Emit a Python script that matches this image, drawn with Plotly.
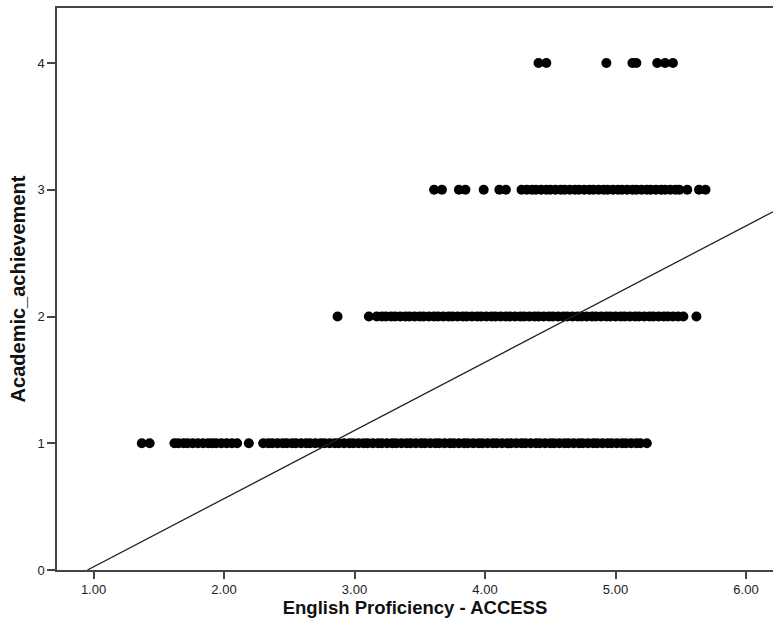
import plotly.graph_objects as go

level1_x = [1.37, 1.43, 1.62, 1.65, 1.69, 1.72, 1.76, 1.80, 1.84, 1.88, 1.91, 1.94, 1.98, 2.02, 2.06, 2.10,
            2.19, 2.30, 2.34, 2.37, 2.41, 2.45, 2.48, 2.52, 2.55, 2.59, 2.63, 2.66, 2.70, 2.74, 2.77,
            2.81, 2.85, 2.88, 2.92, 2.96, 2.99, 3.03, 3.07, 3.10, 3.14, 3.18, 3.21, 3.25, 3.29, 3.32,
            3.36, 3.40, 3.43, 3.47, 3.51, 3.54, 3.58, 3.62, 3.65, 3.69, 3.73, 3.76, 3.80, 3.84, 3.87,
            3.91, 3.95, 3.98, 4.02, 4.06, 4.09, 4.13, 4.17, 4.20, 4.24, 4.28, 4.31, 4.35, 4.39, 4.42,
            4.46, 4.50, 4.53, 4.57, 4.61, 4.64, 4.68, 4.72, 4.75, 4.79, 4.83, 4.86, 4.90, 4.94, 4.97,
            5.01, 5.05, 5.08, 5.12, 5.16, 5.19, 5.24]
level2_x = [2.87, 3.11, 3.17, 3.21, 3.24, 3.28, 3.31, 3.35, 3.39, 3.42, 3.46, 3.50, 3.53, 3.57, 3.61,
            3.64, 3.68, 3.72, 3.75, 3.79, 3.83, 3.86, 3.90, 3.94, 3.97, 4.01, 4.05, 4.08, 4.12, 4.16,
            4.19, 4.23, 4.27, 4.30, 4.34, 4.38, 4.41, 4.45, 4.49, 4.52, 4.56, 4.60, 4.63, 4.67, 4.71,
            4.74, 4.78, 4.82, 4.85, 4.89, 4.93, 4.96, 5.00, 5.04, 5.07, 5.11, 5.15, 5.18, 5.22, 5.26,
            5.29, 5.33, 5.37, 5.40, 5.44, 5.48, 5.52, 5.62]
level3_x = [3.61, 3.67, 3.80, 3.85, 3.99, 4.11, 4.16, 4.28, 4.32, 4.36, 4.39, 4.43, 4.47, 4.50, 4.54,
            4.58, 4.61, 4.65, 4.69, 4.72, 4.76, 4.80, 4.83, 4.87, 4.91, 4.94, 4.98, 5.02, 5.05, 5.09,
            5.13, 5.16, 5.20, 5.24, 5.27, 5.31, 5.35, 5.38, 5.42, 5.46, 5.49, 5.55, 5.64, 5.69]
level4_x = [4.41, 4.47, 4.93, 5.13, 5.16, 5.32, 5.38, 5.44]
levels = [1, 2, 3, 4]

# Fit line
fit_slope = 0.538
fit_intercept = -0.513

x_range = [0.72, 6.207]
y_range = [0, 4.434]
x_ticks = [1, 2, 3, 4, 5, 6]
y_ticks = [0, 1, 2, 3, 4]

xs, ys = [], []
for lvl, arr in zip(levels, [level1_x, level2_x, level3_x, level4_x]):
    xs += arr
    ys += [lvl] * len(arr)

fig = go.Figure()
fig.add_trace(go.Scatter(x=xs, y=ys, mode="markers",
                         marker=dict(color="black", size=10, line=dict(width=0)),
                         showlegend=False, hoverinfo="skip"))
line_x0 = -fit_intercept / fit_slope
line_x1 = x_range[1]
fig.add_trace(go.Scatter(x=[line_x0, line_x1],
                         y=[fit_intercept + fit_slope * line_x0, fit_intercept + fit_slope * line_x1],
                         mode="lines", line=dict(color="#222222", width=1.3),
                         showlegend=False, hoverinfo="skip", cliponaxis=True))

tick_font = dict(family="Liberation Sans, Arial", size=13, color="#222222")
xtitle_font = dict(family="Liberation Sans, Arial", size=18.5, color="#111111")
ytitle_font = dict(family="Liberation Sans, Arial", size=20, color="#111111")

fig.update_layout(
    width=773, height=630,
    margin=dict(l=57, r=0, t=8, b=60),
    plot_bgcolor="white", paper_bgcolor="white",
    xaxis=dict(range=x_range, tickvals=x_ticks, ticktext=[f"{v:.2f}" for v in x_ticks],
               showgrid=False, zeroline=False, showline=True, linecolor="#444444", linewidth=1.5,
               mirror=True, ticks="outside", ticklen=7, tickcolor="#444444", tickwidth=1.5,
               tickfont=tick_font,
               title=dict(text="<b>English Proficiency - ACCESS</b>", font=xtitle_font, standoff=5)),
    yaxis=dict(range=y_range, tickvals=y_ticks, ticktext=[str(v) for v in y_ticks],
               showgrid=False, zeroline=False, showline=True, linecolor="#444444", linewidth=1.5,
               ticks="outside", ticklen=8, tickcolor="#444444", tickwidth=1.5,
               tickfont=tick_font,
               title=dict(text="<b>Academic_achievement</b>", font=ytitle_font, standoff=6)),
)

fig.write_html("out.html")
